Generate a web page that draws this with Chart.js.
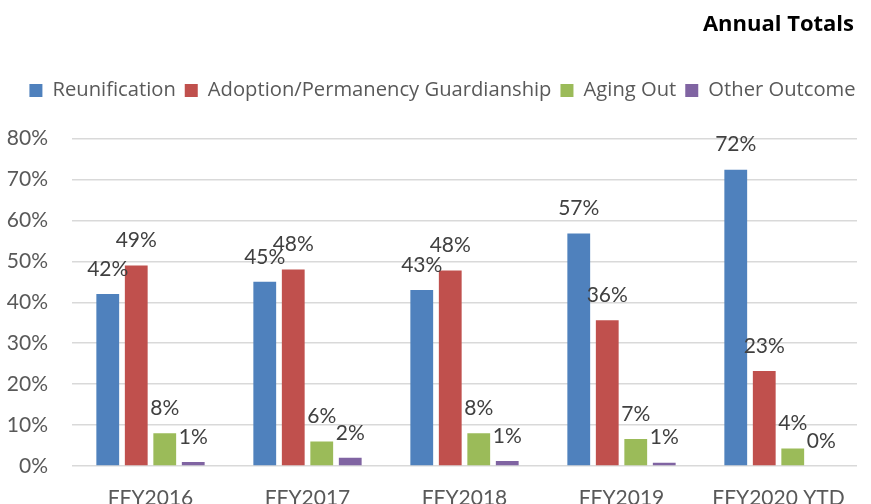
<!DOCTYPE html>
<html>
<head>
<meta charset="utf-8">
<script src="https://cdn.jsdelivr.net/npm/chart.js@4/dist/chart.umd.min.js"></script>
<style>
html,body{margin:0;padding:0;background:#fff;}
#wrap{width:871px;height:504px;position:relative;}
</style>
</head>
<body>
<div id="wrap"><canvas id="c" width="871" height="504"></canvas></div>
<script>
const categories = ["FFY2016", "FFY2017", "FFY2018", "FFY2019", "FFY2020 YTD"];
const reunification = [42, 45, 43, 56.8, 72.4];
const adoption = [49, 48, 47.8, 35.6, 23.2];
const agingOut = [8, 6, 8, 6.6, 4.3];
const otherOutcome = [1, 2, 1.2, 0.8, 0];
const yTicks = [0, 10, 20, 30, 40, 50, 60, 70, 80];

const FONT = "Lato, 'Open Sans', sans-serif";
const LFONT = "'Open Sans', Lato, sans-serif";

const labelPlugin = {
  id: 'barLabels',
  afterDatasetsDraw(chart) {
    const ctx = chart.ctx;
    ctx.save();
    ctx.font = "21px " + FONT;
    ctx.fillStyle = '#404040';
    ctx.textAlign = 'center';
    ctx.textBaseline = 'middle';
    chart.data.datasets.forEach((ds, i) => {
      const meta = chart.getDatasetMeta(i);
      meta.data.forEach((bar, j) => {
        const v = ds.data[j];
        ctx.fillText(Math.round(v) + '%', bar.x, bar.y - 25);
      });
    });
    ctx.restore();
  }
};

function shiftDraw(box, dx) {
  const orig = box.draw;
  box.draw = function () {
    const ctx = this.ctx;
    ctx.save();
    ctx.translate(dx, 0);
    orig.apply(this, arguments);
    ctx.restore();
  };
}

const boxTweaks = {
  id: 'boxTweaks',
  beforeLayout(chart) {
    const lg = chart.legend;
    if (lg && !lg._patched) {
      lg._patched = true;
      const origFit = lg.fit;
      lg.fit = function () { origFit.apply(this, arguments); this.height += 28; };
      shiftDraw(lg, 14);
    }
    const tb = chart.titleBlock;
    if (tb && !tb._patched) {
      tb._patched = true;
      shiftDraw(tb, -3);
    }
  }
};

new Chart(document.getElementById('c'), {
  type: 'bar',
  data: {
    labels: categories,
    datasets: [
      { label: 'Reunification', data: reunification, backgroundColor: '#4f81bd' },
      { label: 'Adoption/Permanency Guardianship', data: adoption, backgroundColor: '#c0504d' },
      { label: 'Aging Out', data: agingOut, backgroundColor: '#9bbb59' },
      { label: 'Other Outcome', data: otherOutcome, backgroundColor: '#8064a2' }
    ]
  },
  options: {
    responsive: false,
    animation: false,
    devicePixelRatio: 1,
    layout: { padding: { left: 0, right: 14, top: 0, bottom: 0 } },
    datasets: { bar: { categoryPercentage: 0.726, barPercentage: 0.8 } },
    plugins: {
      title: {
        display: true, text: 'Annual Totals', align: 'end',
        color: '#000', font: { family: LFONT, size: 22, weight: 'bold' },
        padding: { top: 12, bottom: 33 }
      },
      legend: {
        display: true, position: 'top', align: 'center',
        labels: {
          color: '#595959', font: { family: LFONT, size: 20.2 },
          boxWidth: 13, boxHeight: 13, padding: 9
        }
      },
      tooltip: { enabled: false }
    },
    scales: {
      x: {
        grid: { display: false, drawTicks: false },
        border: { display: false },
        ticks: { color: '#595959', font: { family: FONT, size: 21 }, padding: 20, maxRotation: 0 },
        afterFit(s) { s.height = 38; }
      },
      y: {
        min: 0, max: 80,
        afterBuildTicks(s) { s.ticks = yTicks.map(v => ({ value: v })); },
        grid: { color: '#d9d9d9', lineWidth: 1.5, drawTicks: false },
        border: { display: false },
        ticks: { color: '#595959', font: { family: FONT, size: 21 }, padding: 24, callback: v => v + '%' },
        afterFit(s) { s.width = 72; }
      }
    }
  },
  plugins: [labelPlugin, boxTweaks]
});
</script>
</body>
</html>
